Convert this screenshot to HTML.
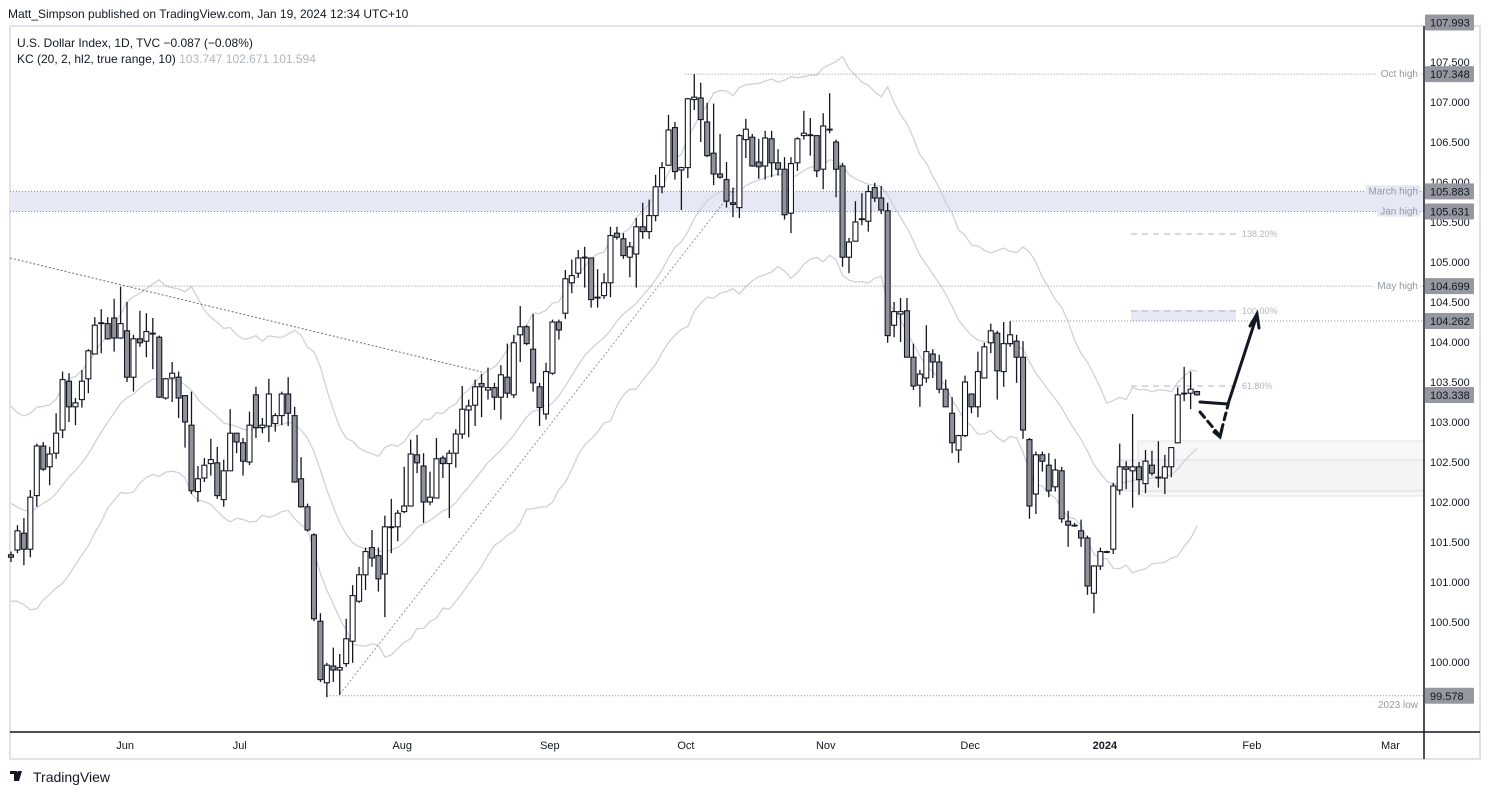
<!DOCTYPE html>
<html><head><meta charset="utf-8"><style>
body{margin:0;background:#fff;width:1490px;height:795px;overflow:hidden;font-family:"Liberation Sans",sans-serif}
svg{position:absolute;left:0;top:0}
text{font-family:"Liberation Sans",sans-serif}
</style></head><body>
<svg id="chart" width="1490" height="795"></svg>
<script>
const opens=[101.34,101.40,101.61,101.41,102.08,102.70,102.44,102.61,102.90,103.51,103.19,103.28,103.54,103.85,104.23,104.23,104.30,104.05,104.14,103.56,104.04,104.01,104.11,104.06,103.30,103.55,103.56,103.33,102.96,102.13,102.30,102.48,102.49,102.03,102.39,102.86,102.74,102.50,103.34,102.93,102.95,102.98,103.08,103.35,103.08,102.29,101.94,101.59,100.51,99.74,99.95,99.90,99.98,100.26,100.76,101.09,101.43,101.33,101.10,101.69,101.69,101.88,101.95,102.59,102.45,102.00,102.05,102.55,102.48,102.61,102.85,103.15,103.21,103.48,103.40,103.43,103.31,103.56,103.34,104.09,104.19,103.91,103.44,103.10,103.61,104.25,104.36,104.74,104.86,105.06,105.05,104.56,104.58,104.74,105.36,105.29,105.06,105.10,105.44,105.38,105.58,105.94,106.21,106.68,106.15,106.18,107.03,107.05,106.75,106.36,106.10,106.03,105.74,105.68,106.53,106.56,106.25,106.20,106.54,106.24,106.16,105.61,106.24,106.58,106.59,106.58,106.16,106.66,106.50,106.20,105.06,105.26,105.53,105.51,105.93,105.80,105.64,104.21,104.35,104.39,103.81,103.46,103.55,103.85,103.75,103.41,103.11,102.65,102.83,103.35,103.19,103.55,103.99,104.11,103.63,103.98,104.01,103.81,102.78,102.10,102.59,102.46,102.19,102.39,101.76,101.71,101.64,101.55,100.86,101.20,101.38,101.41,102.15,102.44,102.39,102.44,102.23,102.46,102.31,102.30,102.44,102.74,103.35,103.36,103.38];
const highs=[101.38,101.71,101.80,102.15,102.73,102.75,102.69,103.11,103.63,103.61,103.30,103.65,103.91,104.31,104.41,104.31,104.54,104.69,104.50,104.09,104.39,104.36,104.30,104.08,103.55,103.75,103.63,103.33,103.38,102.45,102.55,102.79,102.69,102.53,103.16,102.86,102.80,103.13,103.44,103.05,103.54,103.11,103.38,103.56,103.19,102.56,101.98,101.61,100.61,99.99,100.18,100.10,100.54,100.96,101.19,101.43,101.65,101.43,101.83,102.04,101.90,102.44,102.78,102.84,102.61,102.38,102.80,102.58,102.65,102.91,103.45,103.28,103.53,103.60,103.68,103.49,103.71,103.98,104.09,104.45,104.21,104.35,103.49,103.74,104.28,104.28,104.90,105.03,105.15,105.19,105.05,104.91,104.86,105.44,105.44,105.36,105.25,105.55,105.74,105.78,106.09,106.25,106.84,106.75,106.19,107.05,107.35,107.24,106.99,106.98,106.60,106.25,105.93,106.60,106.79,106.60,106.54,106.64,106.64,106.41,106.31,106.31,106.56,106.89,106.80,106.58,106.86,107.11,106.53,106.24,105.30,105.76,105.86,105.96,105.99,105.95,105.74,104.50,104.55,104.55,103.98,103.65,104.21,103.91,103.84,103.53,103.31,102.84,103.58,103.35,103.88,103.99,104.23,104.14,104.25,104.26,104.09,104.01,102.80,102.63,102.63,102.61,102.54,102.44,101.89,101.74,101.78,101.58,101.21,101.43,101.39,102.24,102.73,102.51,103.10,102.50,102.65,102.64,102.76,102.59,102.68,103.43,103.69,103.63,103.39];
const lows=[101.25,101.36,101.21,101.31,101.94,102.39,102.21,102.54,102.80,103.00,102.96,103.18,103.36,103.85,103.86,104.03,103.88,104.04,103.50,103.38,103.94,103.81,103.66,103.30,103.28,103.25,103.05,102.68,102.10,102.00,102.25,102.33,102.04,101.94,102.39,102.61,102.33,102.46,102.80,102.86,102.75,102.88,102.96,102.95,102.24,101.93,101.63,100.51,99.75,99.56,99.75,99.59,99.94,99.99,100.74,100.90,101.19,100.88,100.56,101.36,101.51,101.86,101.95,102.36,101.74,101.96,102.05,102.30,101.80,102.43,102.79,102.81,102.95,103.06,103.28,103.15,103.03,103.30,103.30,103.75,103.96,103.38,102.95,103.03,103.59,104.03,104.29,104.61,104.80,104.68,104.43,104.43,104.54,104.56,105.28,105.04,104.81,104.68,105.29,105.29,105.51,105.86,106.20,106.03,105.65,106.05,106.90,106.50,106.31,105.96,106.04,105.68,105.56,105.55,106.30,106.19,106.04,106.03,106.06,106.08,105.53,105.36,106.14,106.53,106.33,106.06,105.91,106.61,105.81,104.94,104.86,105.26,105.46,105.38,105.75,105.60,103.99,104.06,104.00,103.81,103.40,103.19,103.49,103.55,103.36,103.19,102.61,102.49,102.81,103.11,103.06,103.55,103.86,103.28,103.44,103.94,103.49,102.79,101.79,101.85,102.38,102.06,102.13,101.74,101.44,101.69,101.44,100.84,100.61,101.15,101.36,101.35,102.09,102.16,101.93,102.09,102.11,102.33,102.18,102.10,102.31,102.74,103.26,103.16,103.33];
const closes=[101.31,101.64,101.41,102.06,102.70,102.41,102.60,102.86,103.53,103.19,103.24,103.51,103.89,104.21,104.24,104.04,104.05,104.23,103.56,104.04,103.99,104.13,104.10,103.31,103.54,103.61,103.30,103.00,102.14,102.29,102.46,102.53,102.08,102.39,102.86,102.75,102.51,102.96,102.93,102.96,103.35,103.08,103.35,103.11,102.25,101.94,101.65,100.54,99.78,99.96,99.90,99.93,100.29,100.83,101.09,101.38,101.30,101.04,101.69,101.69,101.86,101.95,102.60,102.49,102.00,102.06,102.54,102.48,102.61,102.85,103.16,103.20,103.44,103.44,103.43,103.31,103.59,103.36,103.99,104.19,103.98,103.49,103.18,103.63,104.25,104.15,104.79,104.83,105.05,105.06,104.53,104.55,104.74,105.33,105.31,105.08,105.19,105.44,105.38,105.58,105.94,106.18,106.65,106.13,106.18,107.04,107.06,106.78,106.33,106.10,106.06,105.76,105.72,106.58,106.66,106.20,106.19,106.55,106.24,106.16,105.59,106.23,106.54,106.61,106.58,106.14,106.70,106.65,106.16,105.06,105.25,105.50,105.54,105.88,105.80,105.65,104.08,104.38,104.38,103.81,103.45,103.60,103.88,103.75,103.41,103.19,102.74,102.83,103.50,103.19,103.63,103.94,104.14,103.64,103.98,104.09,103.81,102.90,101.95,102.59,102.51,102.14,102.40,101.79,101.71,101.71,101.55,100.95,101.20,101.38,101.38,102.20,102.44,102.41,102.44,102.28,102.51,102.36,102.31,102.44,102.68,103.34,103.36,103.41,103.34];
const kcSeedMid=102.05, kcSeedRange=0.66;
const priceTicks=[107.5,107,106.5,106,105.5,105,104.5,104,103.5,103,102.5,102,101.5,101,100.5,100];
const levelValues=[107.348,105.883,105.631,104.699,104.262,99.578];
const levelNames=["Oct high","March high","Jan high","May high","","2023 low"];
const levelStart=[104.5,-1,-1,17,155,49];
const monthLabels=["Jun","Jul","Aug","Sep","Oct","Nov","Dec","2024","Feb","Mar"];
const monthIdx=[17.7,35.5,60.7,83.6,104.7,126.4,148.8,169.7,192.5,214];

const NS="http://www.w3.org/2000/svg";
const svg=document.getElementById('chart');
function y(p){return 102+(107-p)*80;}
function x(i){return 11+i*6.446;}
function el(tag,attrs,parent){const e=document.createElementNS(NS,tag);for(const k in attrs)e.setAttribute(k,attrs[k]);(parent||svg).appendChild(e);return e;}

const frame=el('rect',{x:10,y:26,width:1470,height:733,fill:'#fff',stroke:'#e0e3eb','stroke-width':2});



const t1=el('text',{x:8,y:18,'font-size':12,fill:'#131722'});t1.textContent='Matt_Simpson published on TradingView.com, Jan 19, 2024 12:34 UTC+10';


const t2=el('text',{x:17,y:47,'font-size':12,fill:'#131722'});t2.textContent='U.S. Dollar Index, 1D, TVC  \u22120.087 (\u22120.08%)';t2.setAttribute('xml:space','preserve');


const t3=el('text',{x:17,y:63,'font-size':12,fill:'#131722'});


t3.innerHTML='KC (20, 2, hl2, true range, 10) <tspan fill="#b2b5be">103.747  102.671  101.594</tspan>';

const up=[],mid=[],lo=[];
let m=kcSeedMid,r=kcSeedRange;const a=2/21;
for(let i=0;i<closes.length;i++){
  const hl2=(highs[i]+lows[i])/2;
  let tr=highs[i]-lows[i];
  if(i>0)tr=Math.max(tr,Math.abs(highs[i]-closes[i-1]),Math.abs(lows[i]-closes[i-1]));
  m+=a*(hl2-m);r+=a*(tr-r);
  up.push(m+2*r);mid.push(m);lo.push(m-2*r);
}

const zone=el('rect',{x:10,y:y(105.883),width:1414,height:y(105.631)-y(105.883),fill:'#e6e8f5'});


const box1=el('rect',{x:1138,y:441,width:286,height:55,fill:'#f7f7f8',stroke:'#e3e3e6'});


const box2=el('rect',{x:1118,y:460,width:306,height:31,fill:'#f4f4f5',stroke:'#dedee2'});


const fibRect=el('rect',{x:1131,y:310,width:105,height:11,fill:'#e6e8f5'});



[[up,'kc-upper'],[mid,'kc-basis'],[lo,'kc-lower']].forEach(([arr,name])=>{
  const pl=el('polyline',{points:arr.map((v,i)=>x(i)+','+y(v)).join(' '),fill:'none',stroke:'#cfd1dc','stroke-width':1.3});
  
  
});

levelValues.forEach((v,k)=>{
  const x0=levelStart[k]<0?10:x(levelStart[k]);
  const ln=el('line',{x1:x0,x2:1424,y1:y(v),y2:y(v),stroke:'#8a8d96','stroke-width':1,'stroke-dasharray':'1 2'});
  
  
  if(levelNames[k]){
    const below=levelNames[k]==='2023 low';
    const tx=el('text',{x:1418,y:below?y(v)+12:y(v)+3,'font-size':10,fill:'#9598a1','text-anchor':'end'});
    tx.textContent=levelNames[k];
    
    
    if(!below){const bg=el('rect',{x:1418-tx.getComputedTextLength()-3,y:y(v)-6,width:tx.getComputedTextLength()+5,height:11,fill:k<3&&k>0?'#e6e8f5':'#fff'});svg.insertBefore(bg,tx);}
  }
});

const tl1=el('line',{x1:10,y1:258,x2:482,y2:372,stroke:'#6a6d78','stroke-width':1,'stroke-dasharray':'2 2'});


const tl2=el('line',{x1:340,y1:694,x2:738,y2:184,stroke:'#9598a1','stroke-width':1,'stroke-dasharray':'2 2'});



[[234,'138.20%'],[311,'100.00%'],[386,'61.80%']].forEach(([yy,lab])=>{
  const l=el('line',{x1:1131,x2:1236,y1:yy,y2:yy,stroke:'#b2b5be','stroke-dasharray':'6 5'});
  
  
  const t=el('text',{x:1242,y:yy+3,'font-size':9,fill:'#b2b5be'});t.textContent=lab;
  
  
});

for(let i=0;i<closes.length;i++){
  const g=el('g',{});
  
  
  const cx=x(i);
  el('line',{x1:cx,x2:cx,y1:y(highs[i]),y2:y(lows[i]),stroke:'#131722','stroke-width':1.3},g);
  const top=y(Math.max(opens[i],closes[i])),bot=y(Math.min(opens[i],closes[i]));
  el('rect',{x:cx-2.5,y:top,width:5,height:Math.max(bot-top,0.8),fill:closes[i]>=opens[i]?'#fff':'#8f929b',stroke:'#131722','stroke-width':1.1},g);
}

const ag=el('g',{fill:'none',stroke:'#131722','stroke-width':3,'stroke-linecap':'round'});


el('path',{d:'M1200 402 L1228 404 L1256 318'},ag);
el('path',{d:'M1250 326 L1257 314 L1259 328'},ag);
el('path',{d:'M1200 412 L1220 436 L1228 405','stroke-dasharray':'7 5'},ag);
el('path',{d:'M1214 432 L1220 437 L1222 429'},ag);

const ax=el('line',{x1:1424,x2:1424,y1:26,y2:759,stroke:'#131722','stroke-width':1.5});


const bx=el('line',{x1:10,x2:1480,y1:732,y2:732,stroke:'#131722','stroke-width':1.5});



priceTicks.forEach(p=>{
  const t=el('text',{x:1430,y:y(p)+4,'font-size':11,fill:'#131722'});t.textContent=p.toFixed(3);
  
  
});
const boxVals=[107.993,107.348,105.883,105.631,104.699,104.262,103.338,99.578];
boxVals.forEach(v=>{
  const g=el('g',{});
  
  
  el('rect',{x:1425,y:y(v)-8,width:49,height:16,fill:'#9598a1',rx:1},g);
  const t=el('text',{x:1430,y:y(v)+4,'font-size':11,fill:'#131722'},g);t.textContent=v.toFixed(3);
});
monthLabels.forEach((lab,k)=>{
  const t=el('text',{x:x(monthIdx[k]),y:749,'font-size':11,fill:'#131722','text-anchor':'middle','font-weight':lab==='2024'?'bold':'normal'});
  t.textContent=lab;
  
  
});

const lg=el('g',{});


el('path',{d:'M10 771 H17 V781 H14 V774 H10 Z M18 771 H22 L19 781 H15 Z',fill:'#131722'},lg);
el('circle',{cx:18.5,cy:773,r:1.6,fill:'#131722'},lg);
const lt=el('text',{x:33,y:782,'font-size':14,fill:'#131722'},lg);lt.textContent='TradingView';
</script>
</body></html>
